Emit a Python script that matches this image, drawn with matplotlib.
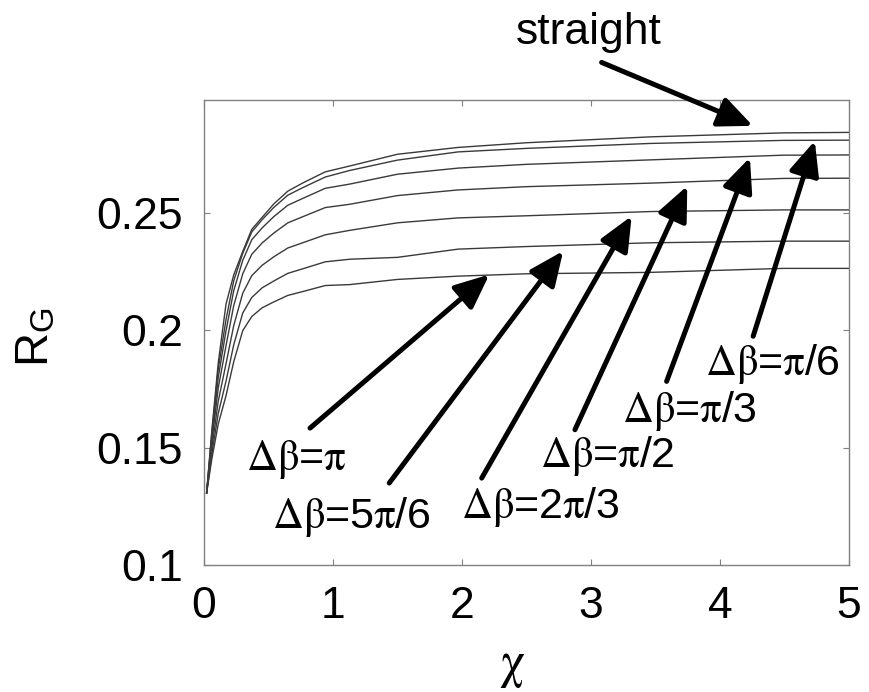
import matplotlib
matplotlib.use("Agg")
import matplotlib.pyplot as plt
from matplotlib.patches import ArrowStyle

plt.rcParams['font.family'] = ['Liberation Sans', 'DejaVu Sans']
plt.rcParams['mathtext.fontset'] = 'stix'

# chi sampling points
chi = [0.02, 0.06, 0.11, 0.17, 0.23, 0.30, 0.37, 0.45, 0.54, 0.65, 0.77,
       0.94, 1.13, 1.50, 1.97, 2.50, 3.46, 4.49, 5.00]

rg_straight = [0.1307, 0.157, 0.186, 0.211, 0.2235, 0.2335, 0.2429, 0.2480, 0.2537, 0.2592,
               0.2628, 0.2674, 0.2699, 0.2749, 0.2778, 0.2798, 0.2823, 0.2840, 0.2842]
rg_pi6 = [0.1307, 0.1559, 0.1834, 0.2044, 0.2210, 0.2327, 0.2418, 0.2470, 0.2522, 0.2575,
          0.2608, 0.2652, 0.2680, 0.2724, 0.2759, 0.2774, 0.2795, 0.2808, 0.2809]
rg_pi3 = [0.1307, 0.1543, 0.1799, 0.1996, 0.2168, 0.2297, 0.2385, 0.2435, 0.2483, 0.2532,
          0.2562, 0.2604, 0.2622, 0.2664, 0.2690, 0.2706, 0.2725, 0.2745, 0.2746]
rg_pi2 = [0.1307, 0.1522, 0.1753, 0.1933, 0.2104, 0.2240, 0.2323, 0.2371, 0.2413, 0.2457,
          0.2484, 0.2522, 0.2536, 0.2573, 0.2597, 0.2611, 0.2626, 0.2646, 0.2647]
rg_2pi3 = [0.1307, 0.1496, 0.1697, 0.1856, 0.2019, 0.2157, 0.2232, 0.2276, 0.2312, 0.2350,
           0.2373, 0.2406, 0.2425, 0.2457, 0.2478, 0.2487, 0.2505, 0.2512, 0.2512]
rg_5pi6 = [0.1307, 0.1472, 0.1645, 0.1782, 0.1937, 0.2073, 0.2139, 0.2180, 0.2209, 0.2242,
           0.2262, 0.2291, 0.2302, 0.2310, 0.2345, 0.2356, 0.2372, 0.2379, 0.2379]
rg_pi = [0.1307, 0.145, 0.160, 0.172, 0.1865, 0.1998, 0.2058, 0.2095, 0.2120, 0.2148,
         0.2165, 0.2190, 0.2194, 0.2216, 0.2230, 0.2240, 0.2246, 0.2263, 0.2263]

curves = [rg_straight, rg_pi6, rg_pi3, rg_pi2, rg_2pi3, rg_5pi6, rg_pi]

labels = ['straight',
          r'$\mathrm{\Delta\beta}$=$\mathrm{\pi}$/6',
          r'$\mathrm{\Delta\beta}$=$\mathrm{\pi}$/3',
          r'$\mathrm{\Delta\beta}$=$\mathrm{\pi}$/2',
          r'$\mathrm{\Delta\beta}$=2$\mathrm{\pi}$/3',
          r'$\mathrm{\Delta\beta}$=5$\mathrm{\pi}$/6',
          r'$\mathrm{\Delta\beta}$=$\mathrm{\pi}$']

# arrow tip, arrow tail, label centre (baseline) in data units
tips = [(4.256, 0.2870), (4.736, 0.2806), (4.233, 0.2735), (3.747, 0.2614),
        (3.316, 0.2486), (2.785, 0.2337), (2.212, 0.2237)]
tails = [(3.083, 0.3140), (4.258, 0.1974), (3.587, 0.1782), (2.876, 0.1576),
         (2.153, 0.1370), (1.436, 0.1349), (0.822, 0.1583)]
label_pos = [(2.981, 0.3218), (4.411, 0.1811), (3.767, 0.1611), (3.124, 0.1419),
             (2.609, 0.1199), (1.143, 0.1157), (0.717, 0.1405)]

xticks = [0, 1, 2, 3, 4, 5]
yticks = [0.1, 0.15, 0.2, 0.25]
ytick_labels = ['0.1', '0.15', '0.2', '0.25']

fig = plt.figure(figsize=(8.69, 6.92), dpi=100)
ax = fig.add_axes([0.2348, 0.1835, 0.742, 0.672])

for c in curves:
    ax.plot(chi, c, color='#3a3a3a', lw=1.0)

ax.set_xlim(0, 5)
ax.set_ylim(0.1, 0.298)
ax.set_xticks(xticks)
ax.set_yticks(yticks)
ax.set_yticklabels(ytick_labels)
ax.tick_params(direction='in', length=4, width=0.8, color='#808080',
               top=True, right=True, labelsize=32, pad=15)
for s in ax.spines.values():
    s.set_color('#808080')
    s.set_linewidth(1.0)

ax.set_xlabel(r'$\mathrm{\chi}$', fontsize=36)
ax.xaxis.set_label_coords(0.478, -0.17)
ax.set_ylabel(r'R$_{\mathregular{G}}$', fontsize=34)
ax.yaxis.set_label_coords(-0.225, 0.49)

head = ArrowStyle('-|>', head_length=0.95, head_width=0.42)
for tip, tail, lab, pos in zip(tips, tails, labels, label_pos):
    ax.annotate('', xy=tip, xytext=tail, annotation_clip=False,
                arrowprops=dict(arrowstyle=head, mutation_scale=22, lw=3.6,
                                color='black', shrinkA=0, shrinkB=0))
    fs = 32 if lab == 'straight' else 31
    ax.text(pos[0], pos[1], lab, fontsize=fs, ha='center', va='baseline',
            clip_on=False)

fig.savefig('out.png', dpi=100)
